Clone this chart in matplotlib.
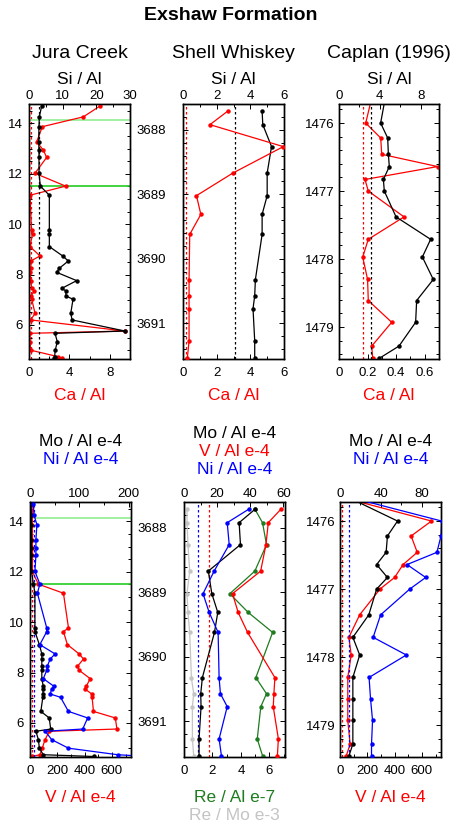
import matplotlib
matplotlib.use('Agg')
import matplotlib.pyplot as plt
from matplotlib.ticker import MultipleLocator, FuncFormatter

plt.rcParams['font.family'] = ['Liberation Sans', 'DejaVu Sans']

# ---- Jura Creek (height in section, m) ----
jura_depth = [14.69, 14.26, 13.87, 13.27, 12.94, 12.65, 12.02, 11.51, 11.15, 9.77,
              9.63, 9.11, 8.74, 8.54, 8.25, 8.09, 7.76, 7.45, 7.36, 7.15,
              7.02, 6.46, 6.20, 5.76, 5.67, 5.34, 5.00, 4.74, 4.67]
jura_si = [3.76, 3.07, 2.97, 2.87, 2.97, 2.97, 2.97, 3.37, 6.04, 6.04,
           6.04, 6.04, 10.0, 11.68, 9.0, 8.22, 14.16, 9.7, 10.9, 11.0,
           13.07, 12.4, 12.8, 28.5, 7.72, 8.4, 7.8, 7.6, 7.4]
jura_ca = [7.03, 5.38, 1.32, 0.76, 1.42, 1.75, 0.59, 3.63, 0.10, 0.25,
           0.35, 0.10, 1.09, 0.17, 0.20, 0.12, 0.17, 0.27, 0.53, 0.20,
           0.27, 0.60, 0.17, 9.5, 0.10, 0.10, 0.17, 2.9, 3.3]
jura_mo = [2, 3, 3, 3, 3, 3, 3, 7, 10, 10,
           10, 19, 24, 24, 24, 24, 24, 27, 27, 26,
           26, 22, 39, 42, 12, 17, 19, 27, 130]
jura_ni = [7, 8, 14, 12, 12, 12, 10, 20, 15, 34,
           34, 20, 51, 41, 35, 34, 27, 49, 44, 41,
           62, 78, 117, 107, 31, 44, 78, 178, 240]
jura_v = [15, 17, 17, 17, 17, 17, 17, 61, 245, 282,
          245, 274, 360, 392, 348, 360, 441, 412, 400, 453,
          455, 465, 625, 637, 142, 110, 90, 73, 12]
jura_green = [14.15, 11.5]

# ---- Shell Whiskey (depth, m) ----
shell_depth = [3687.71, 3687.92, 3688.26, 3688.67, 3689.02, 3689.31, 3689.62,
               3690.32, 3690.57, 3690.77, 3691.27, 3691.53]
shell_si = [4.70, 4.74, 5.26, 5.0, 5.0, 4.70, 4.70, 4.30, 4.26, 4.16, 4.26, 4.26]
shell_ca = [2.66, 1.60, 5.96, 2.96, 0.80, 1.06, 0.40, 0.36, 0.36, 0.36, 0.36, 0.26]
shell_mo = [43.0, 33.3, 34.1, 14.7, 16.8, 20.4, 18.4, 11.1, 10.1, 10.3, 9.1, 9.1]
shell_v = [58.6, 50.9, 49.5, 46.3, 29.3, 32.7, 38.4, 54.9, 54.3, 53.9, 57.0, 56.4]
shell_ni = [39.2, 26.1, 27.3, 18.2, 11.5, 15.2, 20.6, 21.2, 22.0, 26.1, 21.2, 22.6]
shell_re_al = [4.98, 5.52, 5.80, 4.98, 3.22, 4.51, 6.23, 5.05, 5.80, 5.40, 5.15, 5.52]
shell_re_mo = [0.21, 0.21, 0.28, 0.40, 0.21, 0.28, 0.40, 0.52, 0.68, 0.59, 0.59, 0.68]

# ---- Caplan (1996) (depth, m) ----
caplan_depth = [1475.65, 1476.0, 1476.22, 1476.46, 1476.64, 1476.83, 1477.0, 1477.38,
                1477.71, 1477.97, 1478.3, 1478.61, 1478.93, 1479.28, 1479.46]
caplan_si = [4.51, 4.08, 4.77, 4.84, 4.93, 4.35, 4.44, 5.59,
             8.98, 8.17, 9.24, 7.61, 7.51, 5.88, 3.95]
caplan_ca = [0.227, 0.187, 0.292, 0.299, 0.69, 0.182, 0.205, 0.455,
             0.205, 0.166, 0.200, 0.205, 0.369, 0.229, 0.236]
caplan_mo = [7.9, 56.4, 46.5, 45.2, 35.9, 46.5, 35.9, 28.2,
             12.6, 19.3, 12.6, 12.6, 12.6, 12.6, 8.6]
caplan_ni = [9.5, 99.6, 99.0, 95.0, 65.7, 84.0, 68.4, 39.8,
             32.5, 65.0, 28.5, 29.9, 31.9, 30.9, 30.9]
caplan_v = [12, 670, 521, 566, 462, 400, 293, 144,
            65, 82, 57, 57, 57, 74, 45]

# average shale reference values (dotted lines)
si_avg = 3.11
ca_avg = 0.17
ni_avg = 8.5
v_avg = 15.0

W, H = 461, 825
fig = plt.figure(figsize=(W / 100, H / 100), dpi=100)

RED = '#ff0000'
BLUE = '#0000ff'
GREEN = '#1e7b1e'
GREY = '#c4c4c4'

plain = FuncFormatter(lambda v, p: '%g' % round(v, 6))


def box(x0, y0, x1, y1):
    # pixel box -> figure fraction
    return [x0 / W, 1 - y1 / H, (x1 - x0) / W, (y1 - y0) / H]


def ticks(ax, xlim, xmaj, xmin, top, pad):
    ax.set_xlim(*xlim)
    ax.xaxis.set_major_locator(MultipleLocator(xmaj))
    ax.xaxis.set_minor_locator(MultipleLocator(xmin))
    ax.xaxis.set_major_formatter(plain)
    ax.tick_params(axis='x', which='both', direction='in', width=0.7,
                   labelsize=9.5, pad=pad, top=top, bottom=not top,
                   labeltop=top, labelbottom=not top)
    ax.tick_params(axis='x', which='major', length=3.8)
    ax.tick_params(axis='x', which='minor', length=2.4)


def panel(rect, ylim, ymaj, ymin, ypad, xb, xt):
    ax = fig.add_axes(rect)
    ax.set_ylim(*ylim)
    ax.yaxis.set_major_locator(MultipleLocator(ymaj))
    ax.yaxis.set_minor_locator(MultipleLocator(ymin))
    ax.yaxis.set_major_formatter(plain)
    ax.tick_params(axis='y', which='both', direction='in', left=True, right=True,
                   width=0.7, labelsize=9.5, pad=ypad)
    ax.tick_params(axis='y', which='major', length=3.8)
    ax.tick_params(axis='y', which='minor', length=2.4)
    ticks(ax, xb[0], xb[1], xb[2], False, xb[3])
    tw = ax.twiny()
    ticks(tw, xt[0], xt[1], xt[2], True, xt[3])
    for a in (ax, tw):
        for s in a.spines.values():
            s.set_linewidth(1.0)
    return ax, tw


def line(ax, x, y, c, z=3):
    ax.plot(x, y, '-o', color=c, lw=0.9, ms=2.2, zorder=z, clip_on=True)


def dotted(ax, x, c):
    ax.axvline(x, color=c, lw=0.9, ls=(0, (2, 2)), zorder=1)


def label(x, y, s, c='black', size=12.5, weight='normal'):
    fig.text(x / W, 1 - y / H, s, color=c, fontsize=size, weight=weight,
             ha='center', va='center')


jura_ylim = (4.65, 14.77)
shell_ylim = (3691.55, 3687.6)
caplan_ylim = (1479.47, 1475.72)

# ---------- top row: Si/Al (top axis), Ca/Al (bottom axis) ----------
ax, tw = panel(box(29, 104, 130, 359), jura_ylim, 2, 0.5, 4.5,
               ((0, 10), 4, 2, 5.4), ((0, 30), 10, 5, 1.2))
for g, c in zip(jura_green, ['#90ee90', '#22cc22']):
    ax.axhline(g, color=c, lw=1.2, zorder=2)
dotted(tw, si_avg, 'black')
dotted(ax, ca_avg, RED)
line(tw, jura_si, jura_depth, 'black')
line(ax, jura_ca, jura_depth, RED)

ax, tw = panel(box(183, 104, 284, 359), shell_ylim, 1, 0.2, 12,
               ((0, 6), 2, 1, 5.4), ((0, 6), 2, 1, 1.2))
dotted(tw, si_avg, 'black')
dotted(ax, ca_avg, RED)
line(tw, shell_si, shell_depth, 'black')
line(tw, shell_ca, shell_depth, RED)

ax, tw = panel(box(339, 104, 439, 359), caplan_ylim, 1, 0.2, 3,
               ((0, 0.7), 0.2, 0.1, 5.4), ((0, 9.8), 4, 2, 1.2))
dotted(tw, si_avg, 'black')
dotted(ax, ca_avg, RED)
line(tw, caplan_si, caplan_depth, 'black')
line(ax, caplan_ca, caplan_depth, RED)

# ---------- bottom row: trace metals ----------
ax, tw = panel(box(30, 502, 131, 757), jura_ylim, 2, 0.5, 4.5,
               ((0, 740), 200, 100, 5.4), ((0, 205), 100, 50, 1.2))
for g, c in zip(jura_green, ['#90ee90', '#22cc22']):
    ax.axhline(g, color=c, lw=1.2, zorder=2)
dotted(tw, ni_avg, BLUE)
dotted(ax, v_avg, RED)
line(ax, jura_v, jura_depth, RED)
line(tw, jura_mo, jura_depth, 'black')
line(tw, jura_ni, jura_depth, BLUE)

ax, tw = panel(box(184, 502, 285, 757), shell_ylim, 1, 0.2, 12,
               ((0, 7.1), 2, 1, 5.4), ((0, 61), 20, 10, 1.2))
dotted(tw, ni_avg, BLUE)
dotted(tw, v_avg, RED)
line(ax, shell_re_mo, shell_depth, GREY)
line(ax, shell_re_al, shell_depth, GREEN)
line(tw, shell_mo, shell_depth, 'black')
line(tw, shell_v, shell_depth, RED)
line(tw, shell_ni, shell_depth, BLUE)

ax, tw = panel(box(340, 502, 441, 757), caplan_ylim, 1, 0.2, 3,
               ((0, 740), 200, 100, 5.4), ((0, 99), 40, 20, 1.2))
dotted(tw, ni_avg, BLUE)
dotted(ax, v_avg, RED)
line(tw, caplan_mo, caplan_depth, 'black')
line(ax, caplan_v, caplan_depth, RED)
line(tw, caplan_ni, caplan_depth, BLUE)

# ---------- titles and axis names ----------
label(230.5, 15, 'Exshaw Formation', size=14, weight='bold')
for xc, name in zip([79.5, 233.5, 389], ['Jura Creek', 'Shell Whiskey', 'Caplan (1996)']):
    label(xc, 53, name, size=14)
    label(xc, 79, 'Si / Al')
    label(xc, 395, 'Ca / Al', RED)

label(80.5, 441.5, 'Mo / Al e-4')
label(80.5, 459.5, 'Ni / Al e-4', BLUE)
label(234.5, 433, 'Mo / Al e-4')
label(234.5, 451, 'V / Al e-4', RED)
label(234.5, 469, 'Ni / Al e-4', BLUE)
label(390.5, 441.5, 'Mo / Al e-4')
label(390.5, 459.5, 'Ni / Al e-4', BLUE)

label(80.5, 797, 'V / Al e-4', RED)
label(234.5, 797, 'Re / Al e-7', GREEN)
label(234.5, 816, 'Re / Mo e-3', GREY)
label(390.5, 797, 'V / Al e-4', RED)

fig.savefig('out.png', dpi=100)
